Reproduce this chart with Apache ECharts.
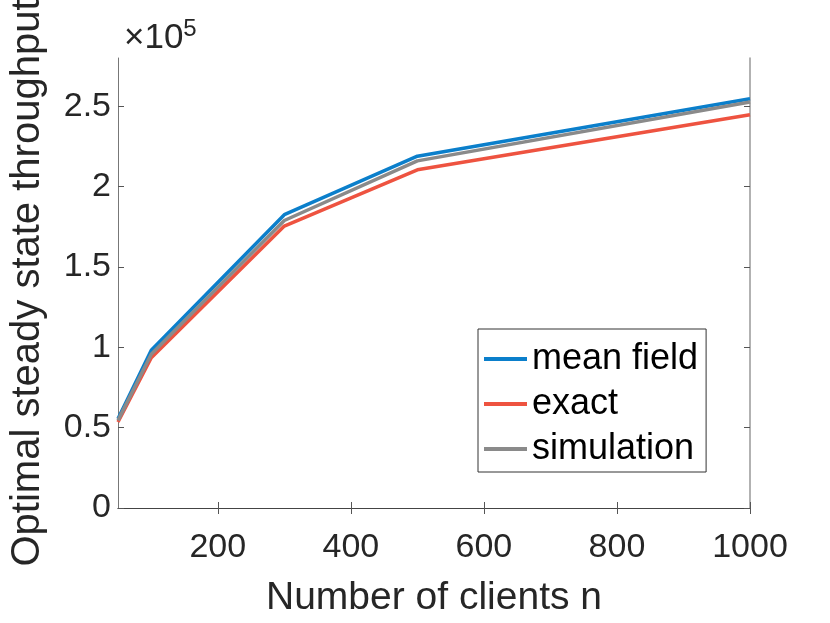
<!DOCTYPE html>
<html>
<head>
<meta charset="utf-8">
<script src="https://cdn.jsdelivr.net/npm/echarts@6/dist/echarts.min.js"></script>
<style>html,body{margin:0;padding:0;background:#fff}#c{width:830px;height:623px}</style>
</head>
<body>
<div id="c"></div>
<script>
const xValues = [50, 100, 300, 500, 1000];
const meanField = [55500, 98200, 182500, 218900, 254700];
const exact = [53500, 93500, 175400, 210400, 244700];
const simulation = [54500, 95700, 178900, 216000, 252600];
const xTicks = [200, 400, 600, 800, 1000];
const yTicks = [0, 50000, 100000, 150000, 200000, 250000];
const seriesNames = ['mean field', 'exact', 'simulation'];
const colors = ['#0b7fcb', '#ee5340', '#8a8a8a'];

const font = '"Liberation Sans", Arial, Helvetica, sans-serif';
const pairs = arr => xValues.map((x, i) => [x, arr[i]]);

const chart = echarts.init(document.getElementById('c'), null, {renderer: 'canvas'});
chart.setOption({
  animation: false,
  backgroundColor: '#fff',
  title: {
    left: 119, top: 12,
    text: '{a|×10}{b|5}',
    textStyle: {
      fontWeight: 'normal',
      rich: {
        a: {fontFamily: font, fontSize: 35, fontWeight: 'normal', color: '#262626'},
        b: {fontFamily: font, fontSize: 24, fontWeight: 'normal', color: '#262626', padding: [0, 0, 18, 0]}
      }
    }
  },
  grid: {left: 117, right: 80, top: 57, bottom: 108, containLabel: false},
  legend: {
    orient: 'vertical',
    left: 478, top: 329,
    padding: [12, 8, 5, 6],
    itemGap: 9,
    itemWidth: 43, itemHeight: 4,
    itemTextGap: 5,
    icon: 'rect',
    backgroundColor: '#fff',
    borderColor: '#333', borderWidth: 1,
    textStyle: {fontFamily: font, fontSize: 36, color: '#000', lineHeight: 36},
    data: seriesNames
  },
  xAxis: [{
    type: 'value', min: 50, max: 1000, position: 'bottom',
    name: 'Number of clients n', nameLocation: 'middle', nameGap: 71,
    nameTextStyle: {fontFamily: font, fontSize: 39, color: '#262626'},
    axisLine: {show: true, lineStyle: {color: '#777', width: 1}},
    axisTick: {show: true, inside: true, length: 6, customValues: xTicks, lineStyle: {color: '#555'}},
    axisLabel: {customValues: xTicks, margin: 23, fontFamily: font, fontSize: 34, color: '#262626',
      formatter: v => String(v)},
    splitLine: {show: false}
  }, {
    type: 'value', min: 50, max: 1000, position: 'top',
    axisLine: {show: true, lineStyle: {color: '#444', width: 1}},
    axisTick: {show: true, inside: true, length: 6, customValues: xTicks, lineStyle: {color: '#555'}},
    axisLabel: {show: false},
    splitLine: {show: false}
  }],
  yAxis: [{
    type: 'value', min: 0, max: 280000, position: 'left',
    name: 'Optimal steady state throughput', nameLocation: 'middle', nameGap: 70,
    nameTextStyle: {fontFamily: font, fontSize: 40, color: '#262626'},
    axisLine: {show: true, lineStyle: {color: '#777', width: 1}},
    axisTick: {show: true, inside: true, length: 6, customValues: yTicks, lineStyle: {color: '#555'}},
    axisLabel: {customValues: yTicks, margin: 7, fontFamily: font, fontSize: 34, color: '#262626',
      formatter: v => String(v / 100000)},
    splitLine: {show: false}
  }, {
    type: 'value', min: 0, max: 280000, position: 'right',
    axisLine: {show: true, lineStyle: {color: '#999', width: 1.5}},
    axisTick: {show: true, inside: true, length: 6, customValues: yTicks, lineStyle: {color: '#555'}},
    axisLabel: {show: false},
    splitLine: {show: false}
  }],
  series: [
    {name: seriesNames[0], type: 'line', data: pairs(meanField), showSymbol: false, xAxisIndex: 0, yAxisIndex: 0,
     color: colors[0], lineStyle: {width: 3.5, color: colors[0]}},
    {name: seriesNames[1], type: 'line', data: pairs(exact), showSymbol: false, xAxisIndex: 0, yAxisIndex: 0,
     color: colors[1], lineStyle: {width: 3.5, color: colors[1]}},
    {name: seriesNames[2], type: 'line', data: pairs(simulation), showSymbol: false, xAxisIndex: 0, yAxisIndex: 0,
     color: colors[2], lineStyle: {width: 3.5, color: colors[2]}}
  ]
});
</script>
</body>
</html>
